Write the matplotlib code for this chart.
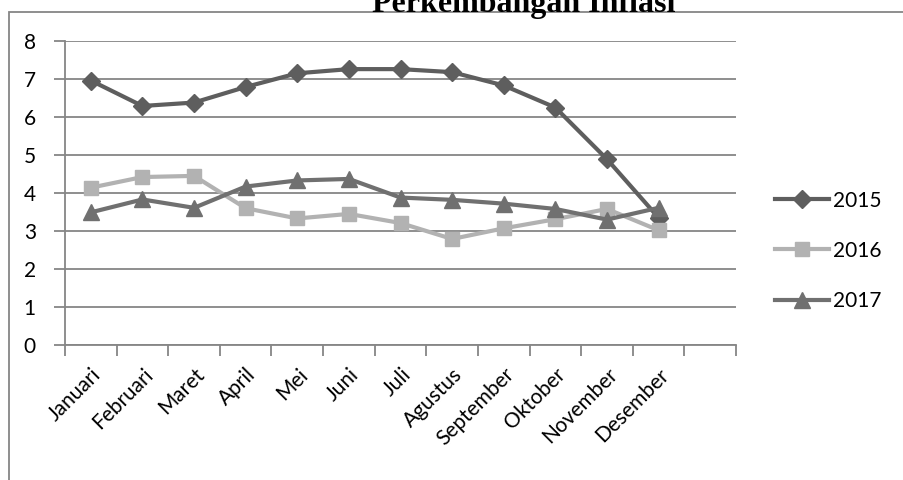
import matplotlib
matplotlib.use("Agg")
from matplotlib import pyplot as plt
from matplotlib.patches import Rectangle

# Inflation data per month
months = ['Januari', 'Februari', 'Maret', 'April', 'Mei', 'Juni', 'Juli',
          'Agustus', 'September', 'Oktober', 'November', 'Desember']
inflasi_2015 = [6.96, 6.29, 6.38, 6.79, 7.15, 7.26, 7.26, 7.18, 6.83, 6.25, 4.89, 3.35]
inflasi_2016 = [4.14, 4.42, 4.45, 3.60, 3.33, 3.45, 3.21, 2.79, 3.07, 3.31, 3.58, 3.02]
inflasi_2017 = [3.49, 3.83, 3.61, 4.17, 4.33, 4.37, 3.88, 3.82, 3.72, 3.58, 3.30, 3.61]
years = ['2015', '2016', '2017']

plt.rcParams['font.family'] = ['Lato', 'DejaVu Sans']

fig = plt.figure(figsize=(9.04, 4.8), dpi=100)
ax = fig.add_axes([65 / 904, 1 - 345 / 480, (736 - 65) / 904, (345 - 41) / 480])

# outer chart border (clipped on the right and bottom)
fig.patches.append(Rectangle((8.5 / 904, -0.2), 1.2, 1.2 - 12 / 480,
                             transform=fig.transFigure, fill=False,
                             edgecolor='#868686', linewidth=1.3))

x = list(range(len(months)))
ax.plot(x, inflasi_2015, color='#5e5e5e', lw=3, marker='D', ms=9, label=years[0], zorder=3)
ax.plot(x, inflasi_2016, color='#b2b2b2', lw=3, marker='s', ms=10, label=years[1], zorder=3)
ax.plot(x, inflasi_2017, color='#707070', lw=3, marker='^', ms=11, label=years[2], zorder=4)

ax.set_xlim(-0.5, 12.5)
ax.set_ylim(0, 8)
ax.set_yticks(range(0, 9))
ax.yaxis.grid(True, color='#868686', linewidth=1.3)
ax.set_axisbelow(True)
ax.tick_params(axis='y', length=8, width=1.3, color='#868686', pad=13, labelsize=15)

ax.set_xticks(x)
ax.set_xticklabels(months, rotation=45, ha='right', rotation_mode='anchor', fontsize=15)
ax.tick_params(axis='x', which='major', length=0, pad=14)
ax.set_xticks([i - 0.5 for i in range(14)], minor=True)
ax.tick_params(axis='x', which='minor', length=8, width=1.3, color='#868686')

for side in ['top', 'right']:
    ax.spines[side].set_visible(False)
for side in ['left', 'bottom']:
    ax.spines[side].set_color('#868686')
    ax.spines[side].set_linewidth(1.3)

ax.legend(loc='center left', bbox_to_anchor=(1.03, 0.31), frameon=False,
          fontsize=15, handlelength=2.6, labelspacing=1.45, handletextpad=0.2)

fig.text(524 / 904, 1 - 12 / 480, 'Perkembangan Inflasi', ha='center', va='baseline',
         fontfamily='Liberation Serif', fontweight='bold', fontsize=23)

fig.savefig('out.png', dpi=100)
